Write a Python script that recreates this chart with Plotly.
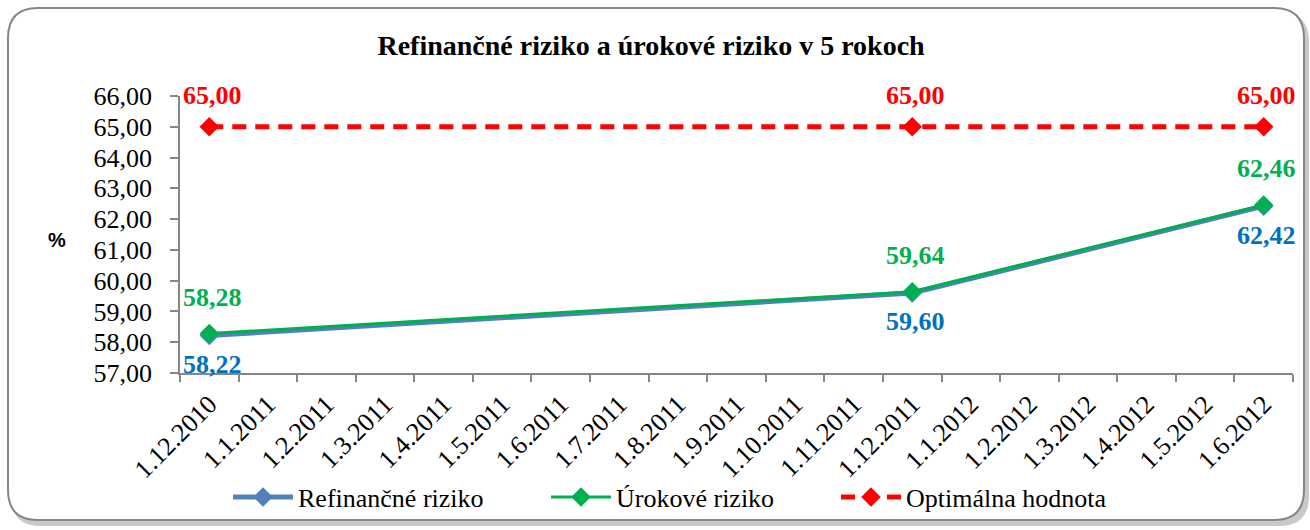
import plotly.graph_objects as go

# ---- data ----
categories = ["1.12.2010", "1.1.2011", "1.2.2011", "1.3.2011", "1.4.2011", "1.5.2011",
              "1.6.2011", "1.7.2011", "1.8.2011", "1.9.2011", "1.10.2011", "1.11.2011",
              "1.12.2011", "1.1.2012", "1.2.2012", "1.3.2012", "1.4.2012", "1.5.2012",
              "1.6.2012"]
refinancne = [58.22, None, None, None, None, None, None, None, None, None, None, None,
              59.60, None, None, None, None, None, 62.42]
urokove = [58.28, None, None, None, None, None, None, None, None, None, None, None,
           59.64, None, None, None, None, None, 62.46]
optimalna = [65.00, None, None, None, None, None, None, None, None, None, None, None,
             65.00, None, None, None, None, None, 65.00]
y_ticks = [57, 58, 59, 60, 61, 62, 63, 64, 65, 66]

title_text = "Refinančné riziko a úrokové riziko v 5 rokoch"
names = ["Refinančné riziko", "Úrokové riziko", "Optimálna hodnota"]

# ---- layout geometry ----
W, H = 1310, 530
ML, MR, MT, MB = 180, 17, 96, 157
PW, PH = W - ML - MR, H - MT - MB

def px(x):
    return (x - ML) / PW

def py(y):
    return (H - MB - y) / PH

def rounded(x0, y0, x1, y1, r):
    return (f"M {px(x0 + r)},{py(y0)} L {px(x1 - r)},{py(y0)} "
            f"Q {px(x1)},{py(y0)} {px(x1)},{py(y0 + r)} "
            f"L {px(x1)},{py(y1 - r)} Q {px(x1)},{py(y1)} {px(x1 - r)},{py(y1)} "
            f"L {px(x0 + r)},{py(y1)} Q {px(x0)},{py(y1)} {px(x0)},{py(y1 - r)} "
            f"L {px(x0)},{py(y0 + r)} Q {px(x0)},{py(y0)} {px(x0 + r)},{py(y0)} Z")

SERIF = "Liberation Serif, Times New Roman, serif"
BLUE_LINE = "#4F81BD"
BLUE_TXT = "#0070C0"
GREEN = "#00B050"
RED = "#FF0000"

series = [
    dict(name=names[0], y=refinancne, line=dict(color=BLUE_LINE, width=5),
         mcolor=BLUE_LINE, tcolor=BLUE_TXT, yshift=-29, legend="legend"),
    dict(name=names[1], y=urokove, line=dict(color=GREEN, width=3),
         mcolor=GREEN, tcolor=GREEN, yshift=36, legend="legend2"),
    dict(name=names[2], y=optimalna, line=dict(color=RED, width=5, dash="14px,9px"),
         mcolor=RED, tcolor=RED, yshift=31, legend="legend3"),
]

fig = go.Figure()
annotations = []
for s in series:
    fig.add_trace(go.Scatter(
        x=categories, y=s["y"], name=s["name"], mode="lines+markers",
        connectgaps=True, cliponaxis=False, legend=s["legend"],
        line=s["line"],
        marker=dict(symbol="diamond", size=15, color=s["mcolor"]),
    ))
    for cat, val in zip(categories, s["y"]):
        if val is None:
            continue
        annotations.append(dict(
            x=cat, y=val, xref="x", yref="y", text=f"<b>{val:.2f}</b>".replace(".", ","),
            showarrow=False, xanchor="center", yanchor="middle",
            xshift=3, yshift=s["yshift"],
            font=dict(family=SERIF, size=26, color=s["tcolor"]),
        ))

annotations.append(dict(text="<b>%</b>", xref="paper", yref="paper",
                        x=px(57), y=py(240), xanchor="center", yanchor="middle",
                        showarrow=False,
                        font=dict(family="Liberation Sans, Arial, sans-serif",
                                  size=20, color="black")))

shapes = [
    dict(type="path", xref="paper", yref="paper", layer="below",
         path=rounded(11, 12, 1309, 526, 30), fillcolor="#c9c9c9",
         line=dict(width=0)),
    dict(type="path", xref="paper", yref="paper", layer="below",
         path=rounded(8, 8, 1304, 520, 30), fillcolor="white",
         line=dict(color="#868686", width=2)),
]

legend_style = dict(orientation="h", xanchor="left", yanchor="middle", y=py(497),
                    font=dict(family=SERIF, size=26, color="black"),
                    bgcolor="rgba(0,0,0,0)", itemwidth=60)

fig.update_layout(
    width=W, height=H,
    margin=dict(l=ML, r=MR, t=MT, b=MB, autoexpand=False),
    paper_bgcolor="white", plot_bgcolor="rgba(0,0,0,0)",
    separators=", ",
    shapes=shapes,
    annotations=annotations,
    title=dict(text=title_text, x=0.497, xref="container", xanchor="center",
               y=1 - 45 / H, yref="container", yanchor="middle",
               font=dict(family=SERIF, size=28, color="black", weight="bold")),
    showlegend=True,
    legend=dict(x=px(228), **legend_style),
    legend2=dict(x=px(546), **legend_style),
    legend3=dict(x=px(836), **legend_style),
)

fig.update_xaxes(
    type="category", categoryorder="array", categoryarray=categories,
    range=[-0.5, len(categories) - 0.5], tickson="boundaries",
    showline=True, linecolor="#868686", linewidth=1.5,
    ticks="outside", ticklen=7, tickcolor="#868686", tickwidth=1.5,
    tickangle=-45, showgrid=False, zeroline=False, automargin=False,
    ticklabelstandoff=4,
    tickfont=dict(family=SERIF, size=26, color="black"),
)
fig.update_yaxes(
    range=[y_ticks[0], y_ticks[-1]], tickvals=y_ticks, tickformat=".2f",
    showline=True, linecolor="#868686", linewidth=1.5,
    ticks="outside", ticklen=8, tickcolor="#868686", tickwidth=1.5,
    showgrid=False, zeroline=False, automargin=False,
    ticklabelstandoff=13,
    tickfont=dict(family=SERIF, size=26, color="black"),
)

fig.write_html("out.html", config={"displayModeBar": False},
               post_script="document.body.style.margin='0';")
